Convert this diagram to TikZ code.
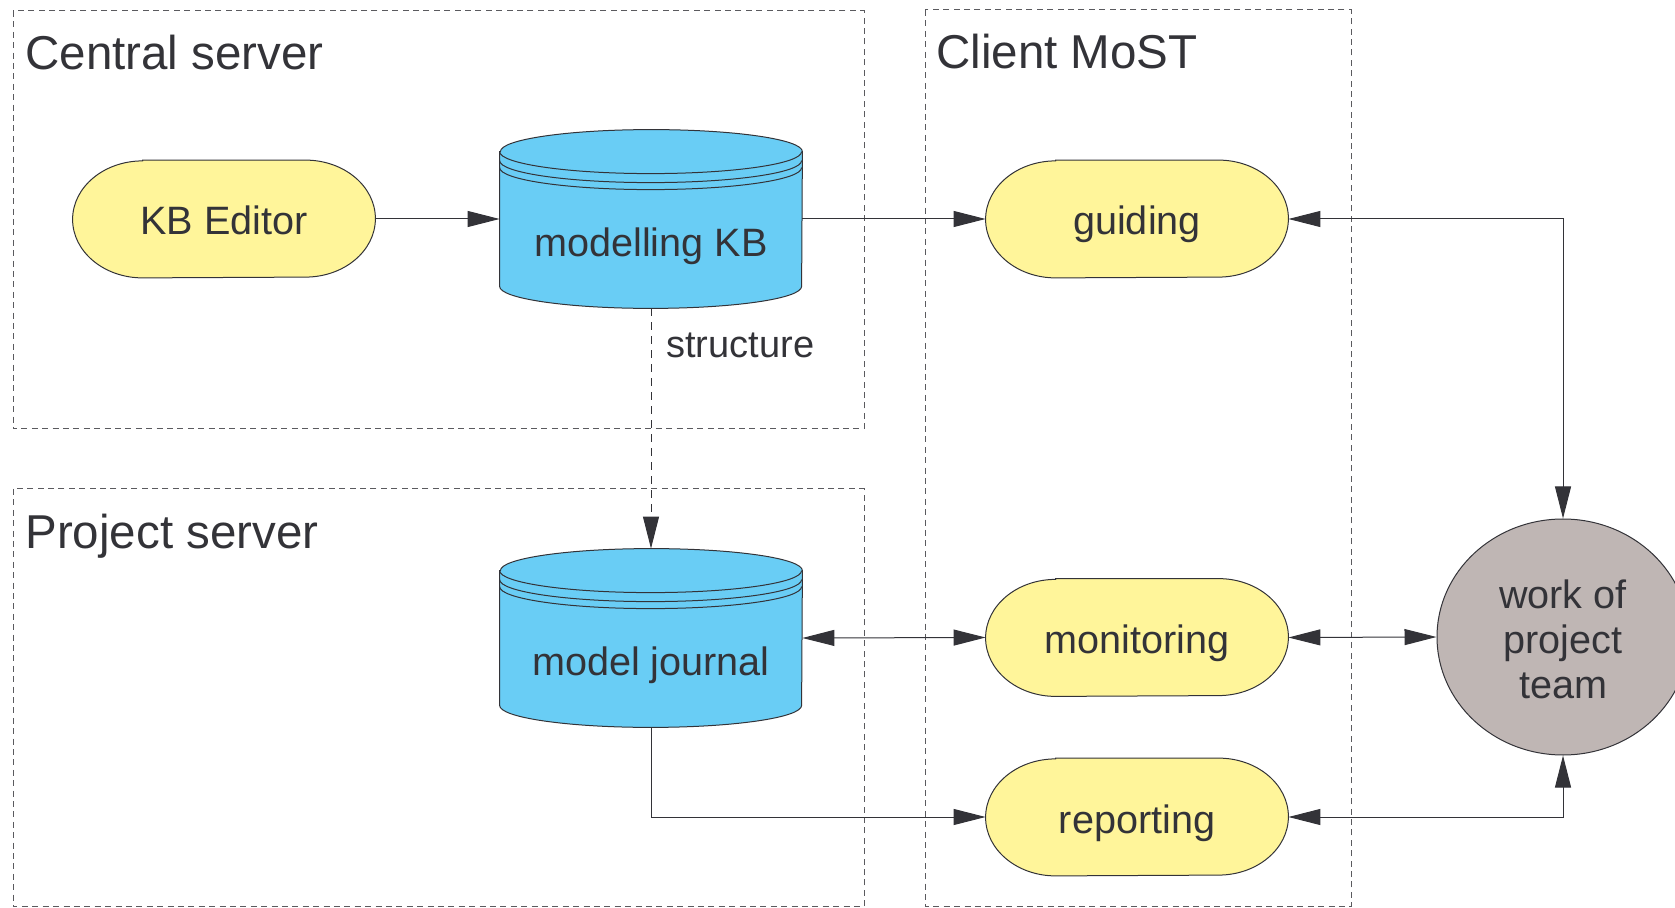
\documentclass[tikz,border=0pt]{standalone}
\usepackage{fontspec}
\setmainfont{Liberation Sans}
\usetikzlibrary{arrows.meta,backgrounds,shapes.geometric}
\definecolor{ink}{HTML}{333338}
\definecolor{yel}{HTML}{FFF59A}
\definecolor{cyanfill}{HTML}{69CDF5}
\definecolor{teamfill}{HTML}{BFB6B4}
\definecolor{framecol}{HTML}{5A5A5E}
\newcommand\stadiumshape[1]{%
  \path[draw=ink,fill=yel,line width=0.5pt]
    ([xshift=35pt]#1.north west) -- ([xshift=-35pt]#1.north east)
    arc[start angle=90,end angle=-90,x radius=35pt,y radius=29.25pt]
    -- ([xshift=35pt]#1.south west)
    arc[start angle=270,end angle=90,x radius=35pt,y radius=29.25pt] -- cycle;}
\newcommand\cylshape[1]{%
  \path[draw=ink,fill=cyanfill,line width=0.5pt]
    ([yshift=-11pt]#1.north west) -- ([yshift=11pt]#1.south west)
    arc[start angle=180,end angle=360,x radius=75.5pt,y radius=11pt]
    -- ([yshift=-11pt]#1.north east)
    arc[start angle=0,end angle=180,x radius=75.5pt,y radius=11pt] -- cycle;
  \draw[ink,line width=0.5pt] ([yshift=-11pt]#1.north west)
    arc[start angle=180,end angle=360,x radius=75.5pt,y radius=11pt];
  \draw[ink,line width=0.5pt] ([yshift=-15.5pt]#1.north west)
    arc[start angle=180,end angle=360,x radius=75.5pt,y radius=11pt];
  \draw[ink,line width=0.5pt] ([yshift=-19pt]#1.north west)
    arc[start angle=180,end angle=360,x radius=75.5pt,y radius=11pt];}
\tikzset{
  x=0.5pt, y=-0.5pt,
  region/.style={draw=framecol, line width=0.5pt, dash pattern=on 3pt off 2.2pt},
  titletext/.style={anchor=base west, inner sep=0pt, text=ink,
    font=\fontsize{23.75pt}{28pt}\selectfont},
  proc/.style={inner sep=0pt, minimum width=151pt, minimum height=58.5pt, text=ink,
    font=\fontsize{19.8pt}{24pt}\selectfont, text height=16pt, text depth=0pt},
  store/.style={inner sep=0pt, minimum width=151pt, minimum height=89pt},
  storetext/.style={anchor=base, inner sep=0pt, text=ink,
    font=\fontsize{19.8pt}{24pt}\selectfont},
  teamnode/.style={ellipse, draw=ink, fill=teamfill, line width=0.5pt,
    minimum width=126pt, minimum height=118pt, inner sep=0pt},
  teamtext/.style={align=center, inner sep=0pt, text=ink,
    font=\fontsize{19.8pt}{22.5pt}\selectfont},
  link/.style={draw=ink, line width=0.5pt},
  arr/.style={-{Triangle[length=16pt,width=8pt]}},
  darr/.style={{Triangle[length=16pt,width=8pt]}-{Triangle[length=16pt,width=8pt]}},
  dashedlink/.style={dash pattern=on 4pt off 3pt},
  lbl/.style={anchor=base west, inner sep=0pt, text=ink,
    font=\fontsize{19pt}{23pt}\selectfont}
}
\begin{document}
\begin{tikzpicture}
\useasboundingbox (0,0) rectangle (1675,908);
\clip (0,0) rectangle (1675,908);

% regions
\draw[region] (13,11) rectangle (864,429);
\draw[region] (13,489) rectangle (864,906.5);
\draw[region] (925,10) rectangle (1351,906.5);
\node[titletext] (tcentral) at (25,70) {Central server};
\node[titletext] (tproject) at (25,548) {Project server};
\node[titletext] (tclient) at (936,69) {Client MoST};

% nodes
\node[proc] (kbed) at (224,219) {};
\node[proc] (guiding) at (1137,219) {};
\node[proc] (monitoring) at (1137,637.5) {};
\node[proc] (reporting) at (1137,817) {};
\node[store] (kb) at (651,219) {};
\node[store] (journal) at (651,638) {};
\node[teamnode] (team) at (1563,637) {};

\stadiumshape{kbed}
\stadiumshape{guiding}
\stadiumshape{monitoring}
\stadiumshape{reporting}
\cylshape{kb}
\cylshape{journal}

\node[proc] at (kbed) {KB Editor};
\node[proc] at (guiding) {guiding};
\node[proc] at (monitoring) {monitoring};
\node[proc] at (reporting) {reporting};
\node[storetext] (kbtext) at ([yshift=-19pt]kb.center) {modelling KB};
\node[storetext] (journaltext) at ([yshift=-18.5pt]journal.center) {model journal};
\node[teamtext] (teamtxt) at ([yshift=-1pt]team.center) {work of\\project\\team};

% connectors
\draw[link,arr] (kbed.east) -- (kb.west);
\draw[link,arr] (kb.east) -- (guiding.west);
\draw[link,arr,dashedlink] (kb.south) -- (journal.north);
\node[lbl] (structure) at (666,358) {structure};
\draw[link,darr] (journal.east) -- (monitoring.west);
\draw[link,arr] (journal.south) |- (reporting.west);
\draw[link,darr] (guiding.east) -| (team.north);
\draw[link,darr] (monitoring.east) -- (team.west);
\draw[link,darr] (reporting.east) -| (team.south);
\end{tikzpicture}
\end{document}
